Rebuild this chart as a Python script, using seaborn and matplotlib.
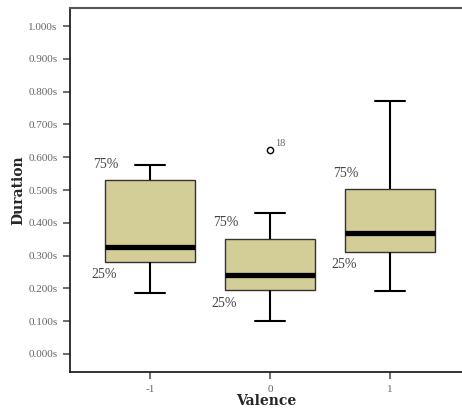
import numpy as np
import pandas as pd
import matplotlib
matplotlib.use("Agg")
import matplotlib.pyplot as plt
import seaborn as sns

categories = ["-1", "0", "1"]
duration_neg = [0.186, 0.281, 0.326, 0.530, 0.577]
duration_zero = [0.101, 0.195, 0.195, 0.241, 0.241, 0.352, 0.352, 0.429, 0.622]
duration_pos = [0.192, 0.312, 0.370, 0.502, 0.772]
outlier_case = "18"
yticks = [0.0, 0.1, 0.2, 0.3, 0.4, 0.5, 0.6, 0.7, 0.8, 0.9, 1.0]
ytick_labels = ["0.000s", "0.100s", "0.200s", "0.300s", "0.400s", "0.500s",
                "0.600s", "0.700s", "0.800s", "0.900s", "1.000s"]

groups = [duration_neg, duration_zero, duration_pos]
df = pd.DataFrame({
    "Valence": [c for c, g in zip(categories, groups) for _ in g],
    "Duration": [v for g in groups for v in g],
})

sns.set_style("white")
fig = plt.figure(figsize=(4.62, 4.09), dpi=100)
ax = fig.add_axes([70/462, 37/409, 392/462, 364/409])

sns.boxplot(data=df, x="Valence", y="Duration", order=categories, ax=ax,
            width=0.75, color="#D3CE97", saturation=1, linecolor="#333333",
            linewidth=1.0,
            medianprops=dict(color="black", linewidth=3.8),
            whiskerprops=dict(color="black", linewidth=1.5),
            capprops=dict(color="black", linewidth=1.5),
            flierprops=dict(marker="o", markersize=4.5, markerfacecolor="white",
                            markeredgecolor="black", markeredgewidth=1.0),
            capwidths=0.25)

ax.set_xlim(-0.667, 2.6)
ax.set_ylim(-0.055, 1.055)
ax.set_yticks(yticks)
ax.set_yticklabels(ytick_labels)

serif = ["Liberation Serif", "DejaVu Serif"]
for lab in ax.get_yticklabels() + ax.get_xticklabels():
    lab.set_fontfamily(serif)
    lab.set_fontsize(8)
    lab.set_color("#666666")

ax.tick_params(axis="both", which="major", direction="out", length=5,
               width=1.2, color="#555555", left=True, bottom=True, pad=4)

for side in ["left", "bottom"]:
    ax.spines[side].set_color("#222222")
    ax.spines[side].set_linewidth(1.3)
ax.spines["top"].set_color("#555555")
ax.spines["top"].set_linewidth(1.5)
ax.spines["right"].set_visible(False)

ax.set_xlabel("Valence", fontfamily="DejaVu Serif", fontweight="bold",
              fontsize=10, labelpad=0.5)
ax.set_ylabel("Duration", fontfamily="DejaVu Serif", fontweight="bold",
              fontsize=10, labelpad=2)

for i, g in enumerate(groups):
    q1, q3 = np.percentile(g, [25, 75])
    ax.text(i - 0.37, q3 + 0.048, "75%", ha="center", va="center",
            fontfamily=serif, fontsize=10, color="#444444")
    ax.text(i - 0.38, q1 - 0.04, "25%", ha="center", va="center",
            fontfamily=serif, fontsize=10, color="#444444")

ax.annotate(outlier_case, xy=(1, max(duration_zero)), xytext=(4, 3),
            textcoords="offset points", fontfamily=serif, fontsize=7.5,
            color="#666666")

fig.savefig("out.png", dpi=100)
